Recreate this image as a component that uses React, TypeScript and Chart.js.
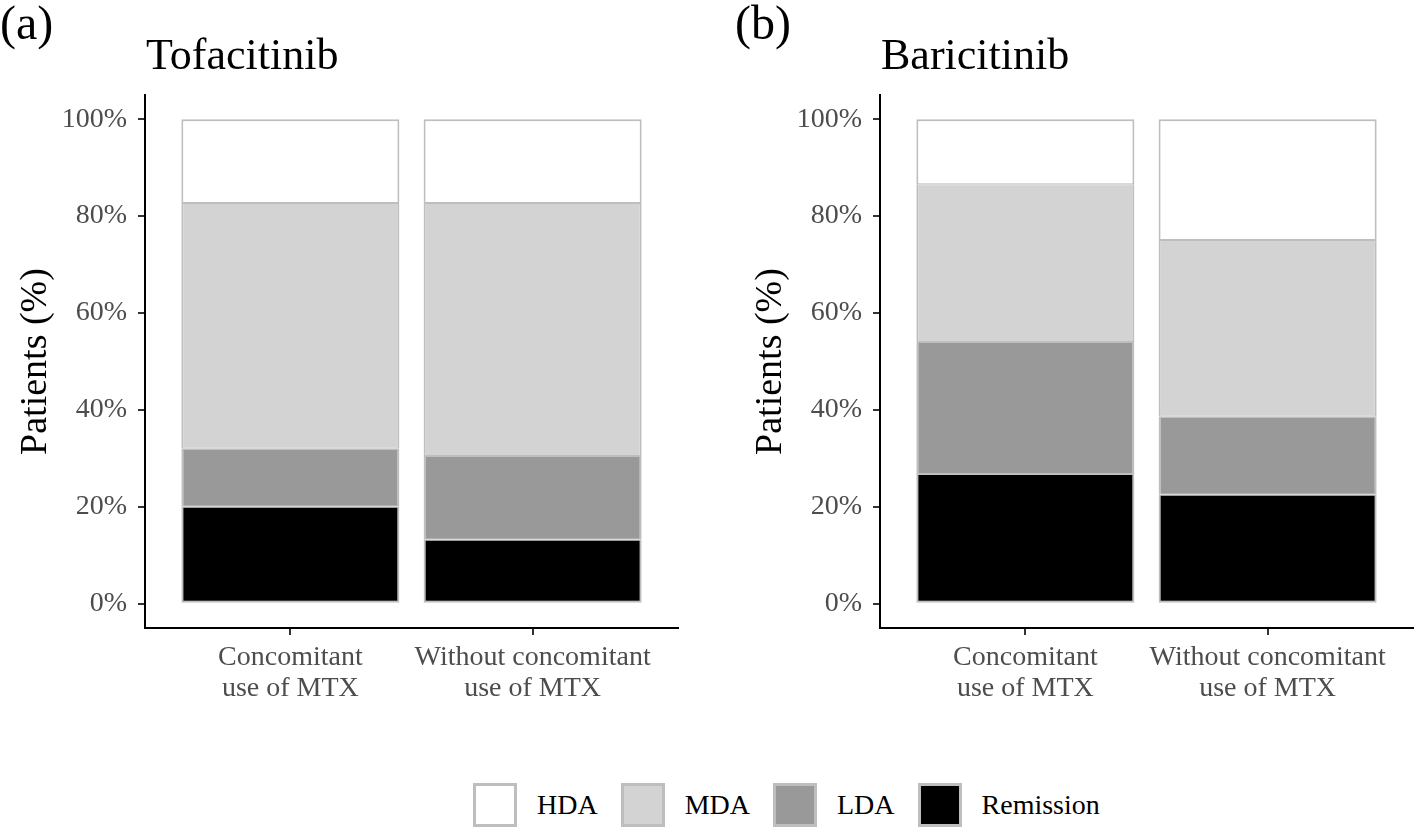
import React, { useEffect, useRef } from "react";
import { Chart, registerables } from "chart.js";

Chart.register(...registerables);

// ---------- data ----------
const categoryLabels: string[][] = [
  ["Concomitant", "use of MTX"],
  ["Without concomitant", "use of MTX"],
];
const categoryPositions = [1, 2];
const seriesNames = ["Remission", "LDA", "MDA", "HDA"];
const legendOrder = ["HDA", "MDA", "LDA", "Remission"];

const tofaRemission = [20.0, 13.2];
const tofaLDA = [12.0, 17.3];
const tofaMDA = [50.7, 52.2];
const tofaHDA = [17.3, 17.3];

const bariRemission = [26.8, 22.5];
const bariLDA = [27.2, 16.1];
const bariMDA = [32.6, 36.5];
const bariHDA = [13.4, 24.9];

const yTickValues = [0, 20, 40, 60, 80, 100];

// ---------- styles ----------
const FONT = "'Liberation Serif', 'Times New Roman', serif";
const fillColors: Record<string, string> = {
  Remission: "#000000",
  LDA: "#999999",
  MDA: "#d3d3d3",
  HDA: "#ffffff",
};
const edgeColor = "#bebebe";

Chart.defaults.font.family = FONT;

function makeConfig(series: number[][]): any {
  const datasets = seriesNames.map((name, si) => ({
    label: name,
    data: categoryPositions.map((x, i) => ({ x, y: series[si][i] })),
    backgroundColor: fillColors[name],
    borderColor: edgeColor,
    borderWidth: {
      left: 2,
      right: 2,
      top: si === seriesNames.length - 1 ? 2 : 1,
      bottom: si === 0 ? 2 : 1,
    },
    borderSkipped: false,
    barPercentage: 0.9,
    categoryPercentage: 1.0,
  }));
  return {
    type: "bar",
    data: { datasets },
    options: {
      animation: false,
      responsive: false,
      devicePixelRatio: 1,
      layout: { padding: { top: 95, right: 5, left: 0, bottom: 0 } },
      plugins: { legend: { display: false }, tooltip: { enabled: false }, title: { display: false } },
      scales: {
        x: {
          type: "linear",
          stacked: true,
          offset: false,
          min: 0.4,
          max: 2.6,
          afterBuildTicks: (scale: any) => {
            scale.ticks = categoryPositions.map((v) => ({ value: v }));
          },
          afterFit: (scale: any) => {
            scale.height = 132;
          },
          ticks: {
            autoSkip: false,
            maxRotation: 0,
            minRotation: 0,
            padding: 7,
            color: "#4d4d4d",
            font: { size: 28, family: FONT, lineHeight: 1.1 },
            callback: (v: number) => {
              const idx = categoryPositions.indexOf(v);
              return idx >= 0 ? categoryLabels[idx] : "";
            },
          },
          grid: {
            display: true,
            offset: false,
            drawOnChartArea: false,
            drawTicks: true,
            tickLength: 7,
            color: "#333333",
            lineWidth: 2,
          },
          border: { display: true, color: "#000000", width: 2 },
        },
        y: {
          type: "linear",
          stacked: true,
          min: -5,
          max: 105,
          afterBuildTicks: (scale: any) => {
            scale.ticks = yTickValues.map((v) => ({ value: v }));
          },
          afterFit: (scale: any) => {
            scale.width = 145;
          },
          title: {
            display: true,
            text: "Patients (%)",
            color: "#000000",
            font: { size: 38, family: FONT, weight: "normal", style: "normal" },
            padding: { top: 13, bottom: 0 },
          },
          ticks: {
            padding: 11,
            color: "#4d4d4d",
            font: { size: 28, family: FONT },
            callback: (v: number) => v + "%",
          },
          grid: {
            display: true,
            drawOnChartArea: false,
            drawTicks: true,
            tickLength: 7,
            color: "#333333",
            lineWidth: 2,
          },
          border: { display: true, color: "#000000", width: 2 },
        },
      },
    },
  };
}

function Panel(props: { series: number[][]; left: number; tag: string; title: string }) {
  const ref = useRef<HTMLCanvasElement | null>(null);
  useEffect(() => {
    if (!ref.current) return;
    const chart = new Chart(ref.current, makeConfig(props.series));
    return () => chart.destroy();
  }, []);
  return (
    <>
      <canvas
        ref={ref}
        width={683}
        height={760}
        style={{ position: "absolute", left: props.left, top: 0, width: 683, height: 760, display: "block" }}
      />
      <div
        style={{
          position: "absolute",
          left: props.left,
          top: -1,
          fontFamily: FONT,
          fontSize: 48,
          lineHeight: 1,
          color: "#000",
          whiteSpace: "nowrap",
        }}
      >
        {props.tag}
      </div>
      <div
        style={{
          position: "absolute",
          left: props.left + 146,
          top: 33,
          fontFamily: FONT,
          fontSize: 44,
          lineHeight: 1,
          color: "#000",
          whiteSpace: "nowrap",
        }}
      >
        {props.title}
      </div>
    </>
  );
}

export default function App() {
  const tofa = [tofaRemission, tofaLDA, tofaMDA, tofaHDA];
  const bari = [bariRemission, bariLDA, bariMDA, bariHDA];
  return (
    <div
      style={{
        position: "absolute",
        left: 0,
        top: 0,
        width: 1418,
        height: 831,
        background: "#ffffff",
        overflow: "hidden",
      }}
    >
      <Panel series={tofa} left={0} tag="(a)" title="Tofacitinib" />
      <Panel series={bari} left={735} tag="(b)" title="Baricitinib" />
      <div
        style={{
          position: "absolute",
          left: 473,
          top: 783,
          height: 44,
          display: "flex",
          alignItems: "center",
          fontFamily: FONT,
          fontSize: 28,
          color: "#000",
          whiteSpace: "nowrap",
        }}
      >
        {legendOrder.map((name) => (
          <React.Fragment key={name}>
            <div
              style={{
                width: 44,
                height: 44,
                boxSizing: "border-box",
                border: `3px solid ${edgeColor}`,
                background: fillColors[name],
              }}
            />
            <span style={{ marginLeft: 20, marginRight: 23, lineHeight: 1 }}>{name}</span>
          </React.Fragment>
        ))}
      </div>
    </div>
  );
}
